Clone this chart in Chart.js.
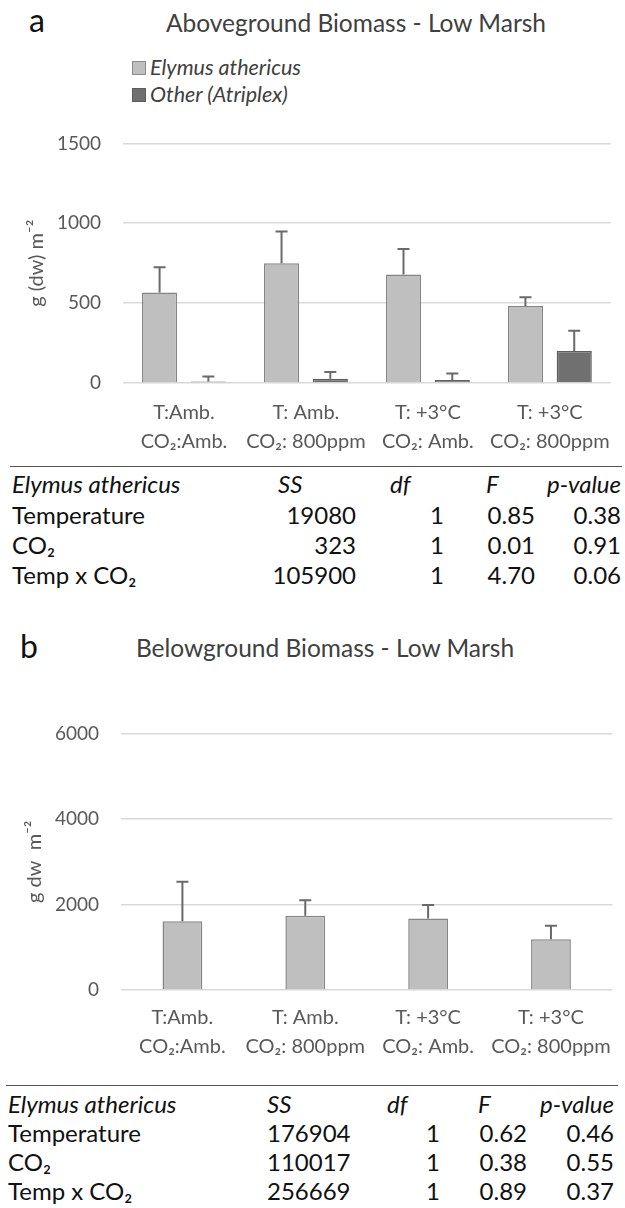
<!DOCTYPE html>
<html>
<head>
<meta charset="utf-8">
<script src="https://cdn.jsdelivr.net/npm/chart.js@4.4.1/dist/chart.umd.min.js"></script>
<style>
  html, body { margin: 0; padding: 0; background: #fff; }
  #page { position: relative; width: 625px; height: 1208px; overflow: hidden; font-family: Lato, "Open Sans", sans-serif; color: #1a1a1a; }
  .abs { position: absolute; white-space: nowrap; line-height: 1; }
  .panel { font-size: 32px; color: #111; }
  .title { font-size: 24.5px; color: #404040; transform: translate(-50%, -50%); }
  .leg { font-size: 21.5px; font-style: italic; color: #404040; transform: translateY(-50%); }
  .sw { position: absolute; width: 12px; height: 12px; border: 1px solid #8a8a8a; }
  .cell { font-size: 24px; transform: translateY(-50%); color: #111; }
  .rule { position: absolute; height: 0; border-top: 1.5px solid #555; }
</style>
</head>
<body>
<div id="page">
  <div class="abs panel" style="left:29px; top:4px;">a</div>
  <div class="abs title" style="left:356px; top:23px;">Aboveground Biomass - Low Marsh</div>
  <div class="sw" style="left:132px; top:61px; background:#bfbfbf;"></div>
  <div class="abs leg" style="left:150px; top:68px;">Elymus athericus</div>
  <div class="sw" style="left:132px; top:88px; background:#707070; border-color:#5c5c5c;"></div>
  <div class="abs leg" style="left:150px; top:95px;">Other (Atriplex)</div>
  <canvas id="chartA" class="abs" style="left:0; top:110px;" width="625" height="350"></canvas>
  <div class="rule" style="left:10px; top:466px; width:612px;"></div>
  <div id="tableA"></div>

  <div class="abs panel" style="left:20px; top:630px;">b</div>
  <div class="abs title" style="left:325px; top:648px;">Belowground Biomass - Low Marsh</div>
  <canvas id="chartB" class="abs" style="left:0; top:700px;" width="625" height="370"></canvas>
  <div class="rule" style="left:6px; top:1085px; width:612px;"></div>
  <div id="tableB"></div>
</div>
<script>
// ---- data ----
const categories = [
  ['T:Amb.', 'CO\u2082:Amb.'],
  ['T: Amb.', 'CO\u2082: 800ppm'],
  ['T: +3\u00B0C', 'CO\u2082: Amb.'],
  ['T: +3\u00B0C', 'CO\u2082: 800ppm']
];
const elymusAbove = [567, 749, 680, 482];
const elymusAboveErr = [157, 200, 159, 55];
const atriplexAbove = [10, 27, 18, 201];
const atriplexAboveErr = [31, 42, 42, 126];
const elymusBelow = [1605, 1739, 1672, 1187];
const elymusBelowErr = [925, 358, 313, 313];
const yTicksA = [0, 500, 1000, 1500];
const yTicksB = [0, 2000, 4000, 6000];

const tableHeader = ['Elymus athericus', 'SS', 'df', 'F', 'p-value'];
const tableRowLabels = ['Temperature', 'CO\u2082', 'Temp x CO\u2082'];
const tableA_SS = ['19080', '323', '105900'];
const tableA_df = ['1', '1', '1'];
const tableA_F = ['0.85', '0.01', '4.70'];
const tableA_p = ['0.38', '0.91', '0.06'];
const tableB_SS = ['176904', '110017', '256669'];
const tableB_df = ['1', '1', '1'];
const tableB_F = ['0.62', '0.38', '0.89'];
const tableB_p = ['0.46', '0.55', '0.37'];

// ---- tables ----
function buildTable(id, cfg) {
  const host = document.getElementById(id);
  function add(text, y, x, align, italic) {
    const d = document.createElement('div');
    d.className = 'abs cell';
    d.textContent = text;
    d.style.top = y + 'px';
    if (align === 'right') d.style.right = (625 - x) + 'px'; else d.style.left = x + 'px';
    if (italic) d.style.fontStyle = 'italic';
    host.appendChild(d);
  }
  const h = cfg.header;
  add(tableHeader[0], cfg.rows[0], h[0], 'left', true);
  add(tableHeader[1], cfg.rows[0], h[1], 'left', true);
  add(tableHeader[2], cfg.rows[0], h[2], 'left', true);
  add(tableHeader[3], cfg.rows[0], h[3], 'left', true);
  add(tableHeader[4], cfg.rows[0], h[4], 'right', true);
  for (let i = 0; i < 3; i++) {
    const y = cfg.rows[i + 1];
    add(tableRowLabels[i], y, h[0], 'left', false);
    add(cfg.ss[i], y, cfg.ssX, cfg.ssAlign, false);
    add(cfg.df[i], y, cfg.dfX, 'right', false);
    add(cfg.F[i], y, cfg.FX, 'right', false);
    add(cfg.p[i], y, cfg.pX, 'right', false);
  }
}
buildTable('tableA', {
  header: [12, 278, 390, 486, 621], rows: [484, 515, 545, 575],
  ss: tableA_SS, ssX: 356, ssAlign: 'right', df: tableA_df, dfX: 444,
  F: tableA_F, FX: 535, p: tableA_p, pX: 621
});
buildTable('tableB', {
  header: [8, 267, 387, 478, 614], rows: [1104, 1133, 1162, 1191],
  ss: tableB_SS, ssX: 267, ssAlign: 'left', df: tableB_df, dfX: 440,
  F: tableB_F, FX: 527, p: tableB_p, pX: 614
});

// ---- charts ----
const FONT = 'Lato, "Open Sans", sans-serif';

const errorBars = {
  id: 'errorBars',
  afterDatasetsDraw(chart) {
    const ctx = chart.ctx;
    const yScale = chart.scales.y;
    chart.data.datasets.forEach((ds, di) => {
      if (!ds.errors) return;
      const meta = chart.getDatasetMeta(di);
      meta.data.forEach((el, i) => {
        const v = ds.data[i];
        const top = yScale.getPixelForValue(v + ds.errors[i]);
        ctx.save();
        ctx.strokeStyle = '#6a6a6a';
        ctx.lineWidth = 2;
        ctx.beginPath();
        ctx.moveTo(el.x, el.y);
        ctx.lineTo(el.x, top);
        ctx.moveTo(el.x - 6, top);
        ctx.lineTo(el.x + 6, top);
        ctx.stroke();
        ctx.restore();
      });
    });
  }
};

function makeOptions(opt) {
  return {
    responsive: false,
    animation: false,
    events: [],
    layout: { padding: { top: opt.padTop, right: opt.padRight, left: 0, bottom: 0 } },
    plugins: { legend: { display: false }, tooltip: { enabled: false } },
    scales: {
      x: {
        grid: { display: false, drawTicks: false },
        border: { display: false },
        ticks: { color: '#595959', font: { family: FONT, size: 20, lineHeight: 1.45 }, padding: opt.xPad, maxRotation: 0, autoSkip: false },
        afterFit(s) { s.height = opt.xHeight; }
      },
      y: {
        min: opt.ticks[0], max: opt.ticks[opt.ticks.length - 1],
        afterBuildTicks(s) { s.ticks = opt.ticks.map(v => ({ value: v })); },
        grid: { color: '#d9d9d9', lineWidth: 1.6, drawTicks: false },
        border: { display: false },
        ticks: { color: '#595959', font: { family: FONT, size: 19 }, padding: 22, callback: v => String(v) },
        title: { display: true, text: opt.yTitle, color: '#595959', font: { family: FONT, size: 20, lineHeight: 1.2 }, padding: { top: opt.titlePad, bottom: 0 } },
        afterFit(s) { s.width = opt.yWidth; }
      }
    }
  };
}

new Chart(document.getElementById('chartA'), {
  type: 'bar',
  data: {
    labels: categories,
    datasets: [
      { label: 'Elymus athericus', data: elymusAbove, errors: elymusAboveErr, backgroundColor: '#bfbfbf', borderColor: '#858585', borderWidth: 1.5, categoryPercentage: 0.8, barPercentage: 0.72 },
      { label: 'Other (Atriplex)', data: atriplexAbove, errors: atriplexAboveErr, backgroundColor: '#707070', borderColor: '#5e5e5e', borderWidth: 1.5, categoryPercentage: 0.8, barPercentage: 0.72 }
    ]
  },
  options: makeOptions({ padTop: 27, padRight: 3, xHeight: 77, xPad: 15, ticks: yTicksA, yTitle: 'g (dw) m\u207B\u00B2', titlePad: 25, yWidth: 123 }),
  plugins: [errorBars]
});

new Chart(document.getElementById('chartB'), {
  type: 'bar',
  data: {
    labels: categories,
    datasets: [
      { label: 'Elymus athericus', data: elymusBelow, errors: elymusBelowErr, backgroundColor: '#bfbfbf', borderColor: '#858585', borderWidth: 1.5, categoryPercentage: 0.8, barPercentage: 0.405 }
    ]
  },
  options: makeOptions({ padTop: 22, padRight: 10, xHeight: 80, xPad: 13, ticks: yTicksB, yTitle: 'g dw  m\u207B\u00B2', titlePad: 23, yWidth: 121 }),
  plugins: [errorBars]
});
</script>
</body>
</html>
